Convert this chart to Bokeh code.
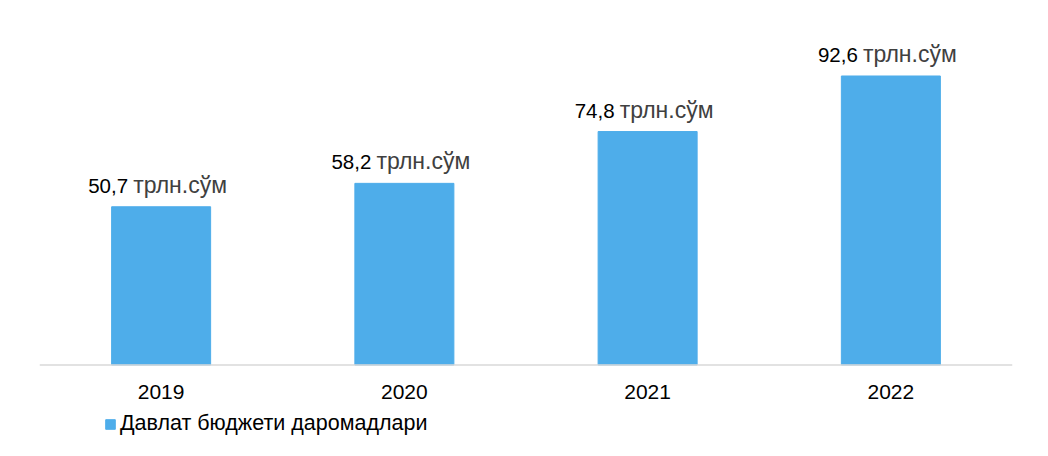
from bokeh.plotting import figure
from bokeh.models import ColumnDataSource, LabelSet, Legend, LegendItem, FactorRange, Span
from bokeh.core.properties import value
from bokeh.embed import file_html
from bokeh.resources import INLINE

years = ["2019", "2020", "2021", "2022"]
values = [50.7, 58.2, 74.8, 92.6]
value_labels = ["50,7", "58,2", "74,8", "92,6"]
unit_label = "трлн.сўм"
series_name = "Давлат бюджети даромадлари"

src = ColumnDataSource(dict(x=years, top=values, num=value_labels,
                            unit=[unit_label] * len(years), zero=[0] * len(years)))

p = figure(width=1032, height=440, x_range=FactorRange(*years), y_range=(-24.19, 111.02),
           output_backend="svg", toolbar_location=None,
           min_border_left=39, min_border_right=20, min_border_top=18, min_border_bottom=0)
p.outline_line_color = None
p.xgrid.visible = False
p.ygrid.visible = False
p.yaxis.visible = False
p.xaxis.visible = False
p.background_fill_color = "white"
p.border_fill_color = "white"

r = p.vbar(x="x", top="top", width=0.407, source=src, color="#4EADEA")

p.add_layout(Span(location=0, dimension="width", line_color="#D9D9D9", line_width=1.5))

tick_labels = LabelSet(x="x", y="zero", text="x", source=src, y_offset=-33.5,
                       text_align="center", text_baseline="alphabetic",
                       text_font=value("Liberation Sans"), text_font_size=value("21px"),
                       text_color=value("#000000"))
num_labels = LabelSet(x="x", y="top", text="num", source=src, x_offset=-33, y_offset=14,
                      text_align="right", text_baseline="alphabetic",
                      text_font=value("Liberation Sans"), text_font_size=value("20.5px"),
                      text_color=value("#000000"))
unit_labels = LabelSet(x="x", y="top", text="unit", source=src, x_offset=-28, y_offset=14,
                       text_align="left", text_baseline="alphabetic",
                       text_font=value("Liberation Sans"), text_font_size=value("23px"),
                       text_color=value("#404040"))
p.add_layout(tick_labels)
p.add_layout(num_labels)
p.add_layout(unit_labels)

legend = Legend(items=[LegendItem(label=series_name, renderers=[r])],
                location=(65, 4), padding=0, margin=0, border_line_color=None,
                background_fill_alpha=0, glyph_width=12, glyph_height=12, label_standoff=4,
                label_text_font="Liberation Sans", label_text_font_size="21.5px",
                label_text_color="#000000", label_height=20)
p.add_layout(legend, "center")

open("out.html", "w").write(file_html(p, INLINE))
